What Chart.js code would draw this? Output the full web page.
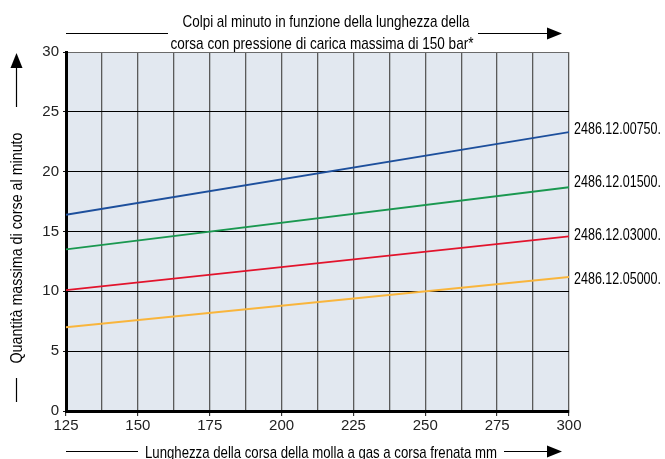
<!DOCTYPE html>
<html><head><meta charset="utf-8">
<script src="https://cdn.jsdelivr.net/npm/chart.js@4/dist/chart.umd.min.js"></script>
<style>html,body{margin:0;padding:0;background:#fff}canvas{display:block}</style>
</head><body>
<canvas id="c" width="665" height="459"></canvas>
<script>
const strokes = [125, 300];
const series00750 = [16.4, 23.3];
const series01500 = [13.5, 18.7];
const series03000 = [10.1, 14.6];
const series05000 = [7.0, 11.2];
const seriesNames = ['2486.12.00750.', '2486.12.01500.', '2486.12.03000.', '2486.12.05000.'];
const seriesColors = ['#1d4f9c', '#1a9850', '#e2132c', '#f9b53c'];
const titleLines = ['Colpi al minuto in funzione della lunghezza della', 'corsa con pressione di carica massima di 150 bar*'];
const xTitle = 'Lunghezza della corsa della molla a gas a corsa frenata mm';
const yTitle = 'Quantità massima di corse al minuto';

const allSeries = [series00750, series01500, series03000, series05000];
const FONT = '"Liberation Sans", Arial, sans-serif';

function fitText(ctx, text, x, y, w) {
  const m = ctx.measureText(text).width;
  ctx.save();
  ctx.translate(x, y);
  ctx.scale(w / m, 1);
  ctx.fillText(text, 0, 0);
  ctx.restore();
}

function arrowHead(ctx, x, y, dir) {
  ctx.beginPath();
  if (dir === 'right') { ctx.moveTo(x, y); ctx.lineTo(x - 15, y - 6); ctx.lineTo(x - 15, y + 6); }
  else { ctx.moveTo(x, y); ctx.lineTo(x - 6, y + 15); ctx.lineTo(x + 6, y + 15); }
  ctx.closePath(); ctx.fill();
}

const deco = {
  id: 'deco',
  beforeDraw(chart) {
    const {ctx, chartArea: a} = chart;
    ctx.save();
    ctx.fillStyle = '#e2e8f0';
    ctx.fillRect(a.left, a.top, a.right - a.left, a.bottom - a.top);
    ctx.restore();
  },
  afterDraw(chart) {
    const {ctx} = chart;
    ctx.save();
    ctx.fillStyle = '#000'; ctx.strokeStyle = '#000'; ctx.lineWidth = 1.2;
    ctx.font = '17px ' + FONT;
    ctx.textAlign = 'center'; ctx.textBaseline = 'middle';
    fitText(ctx, titleLines[0], 326, 22, 287);
    fitText(ctx, titleLines[1], 322, 44, 303);
    // top arrows
    ctx.beginPath(); ctx.moveTo(66, 33.5); ctx.lineTo(168, 33.5); ctx.stroke();
    ctx.beginPath(); ctx.moveTo(478, 33.5); ctx.lineTo(548, 33.5); ctx.stroke();
    arrowHead(ctx, 562, 33.5, 'right');
    // bottom
    fitText(ctx, xTitle, 321, 453, 352);
    ctx.beginPath(); ctx.moveTo(66, 451.5); ctx.lineTo(138, 451.5); ctx.stroke();
    ctx.beginPath(); ctx.moveTo(504, 451.5); ctx.lineTo(548, 451.5); ctx.stroke();
    arrowHead(ctx, 562, 451.5, 'right');
    // y label
    ctx.save();
    ctx.translate(17, 248); ctx.rotate(-Math.PI / 2);
    fitText(ctx, yTitle, 0, 0, 231);
    ctx.restore();
    ctx.beginPath(); ctx.moveTo(16.5, 66); ctx.lineTo(16.5, 107); ctx.stroke();
    arrowHead(ctx, 16.5, 53, 'up');
    ctx.beginPath(); ctx.moveTo(16.5, 378); ctx.lineTo(16.5, 402); ctx.stroke();
    // series labels at right end
    ctx.textAlign = 'left';
    ctx.font = '16px ' + FONT;
    const offs = [-3, -5, -1, 3];
    chart.data.datasets.forEach((ds, i) => {
      const meta = chart.getDatasetMeta(i);
      const pt = meta.data[meta.data.length - 1];
      fitText(ctx, seriesNames[i], 574, pt.y + offs[i], 87);
    });
    ctx.restore();
  }
};

new Chart(document.getElementById('c'), {
  type: 'line',
  data: {
    datasets: allSeries.map((s, i) => ({
      label: seriesNames[i],
      data: strokes.map((x, j) => ({x, y: s[j]})),
      borderColor: seriesColors[i],
      borderWidth: 1.8,
      pointRadius: 0,
      fill: false,
      tension: 0
    }))
  },
  options: {
    responsive: false,
    animation: false,
    layout: {padding: {left: 0, right: 96, top: 52, bottom: 0}},
    plugins: {legend: {display: false}, title: {display: false}, tooltip: {enabled: false}},
    scales: {
      x: {
        type: 'linear', min: 125, max: 300,
        afterBuildTicks(s) { const t = []; for (let v = 125; v <= 300; v += 12.5) t.push({value: v}); s.ticks = t; },
        afterFit(s) { s.height = 48; },
        ticks: {
          autoSkip: false, maxRotation: 0, padding: 1,
          color: '#222', font: {family: 'Liberation Sans, Arial, sans-serif', size: 15},
          callback: v => (v % 25 === 0 ? String(v) : '')
        },
        grid: {
          color: '#5a5a5a', lineWidth: 1.3, tickLength: 5,
          tickColor: c => (c.tick && c.tick.value % 25 === 0 ? '#111' : 'rgba(0,0,0,0)'),
          tickWidth: 1
        },
        border: {display: true, color: '#000', width: 3}
      },
      y: {
        min: 0, max: 30,
        afterFit(s) { s.width = 66; },
        ticks: {stepSize: 5, padding: 4, color: '#222', font: {family: 'Liberation Sans, Arial, sans-serif', size: 15}},
        grid: {color: c => (c.tick && c.tick.value === 30 ? '#6a6a6a' : '#000'), lineWidth: 1, tickLength: 3, tickColor: '#111'},
        border: {display: true, color: '#000', width: 3}
      }
    }
  },
  plugins: [deco]
});
</script>
</body></html>
